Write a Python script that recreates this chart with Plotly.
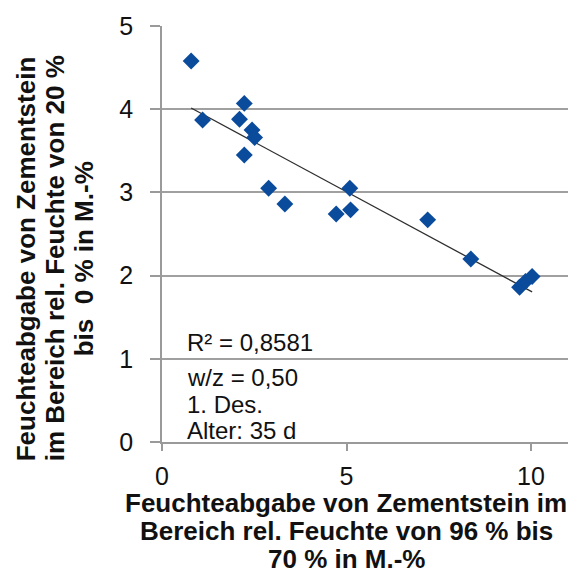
import numpy as np
import plotly.graph_objects as go

# Data
x_vals = [0.79, 1.10, 2.23, 2.10, 2.44, 2.51, 2.23, 2.89, 3.33, 4.72, 5.09, 5.11, 7.20, 8.37, 9.69, 9.85, 10.03]
y_vals = [4.58, 3.87, 4.07, 3.88, 3.75, 3.66, 3.45, 3.05, 2.86, 2.74, 3.05, 2.79, 2.67, 2.20, 1.86, 1.93, 1.99]
x_ticks = [0, 5, 10]
y_ticks = [0, 1, 2, 3, 4, 5]
info_lines = ["R² = 0,8581", "w/z = 0,50", "1. Des.", "Alter: 35 d"]
x_title_lines = ["Feuchteabgabe von Zementstein im", "Bereich rel. Feuchte von 96 % bis", "70 % in M.-%"]
y_title_lines = ["Feuchteabgabe von Zementstein", "im Bereich rel. Feuchte von 20 %", "bis  0 % in M.-%"]

FONT = "Arial, Liberation Sans, sans-serif"

# linear trendline fitted to the data
slope, intercept = np.polyfit(x_vals, y_vals, 1)
tx = np.array([min(x_vals), max(x_vals)])
ty = slope * tx + intercept

fig = go.Figure()
fig.add_trace(go.Scatter(x=tx, y=ty, mode="lines",
                         line=dict(color="#2e2e2e", width=1.3), showlegend=False, hoverinfo="skip"))
fig.add_trace(go.Scatter(x=x_vals, y=y_vals, mode="markers",
                         marker=dict(symbol="diamond", size=13, color="#0a4b9c", line=dict(width=0)),
                         showlegend=False))

W, H = 581, 576
L, R, T, B = 162, 13, 22, 134
pw, ph = W - L - R, H - T - B


def px2paper_x(px):
    return (px - L) / pw


def px2paper_y(py):
    return (H - B - py) / ph


annotations = []
# info text inside plot
info_centers = [341.7, 376.7, 403.7, 430.8]
for txt, cy in zip(info_lines, info_centers):
    annotations.append(dict(text=txt, xref="paper", yref="paper", x=px2paper_x(185), y=px2paper_y(cy),
                            xanchor="left", yanchor="middle", showarrow=False,
                            font=dict(family=FONT, size=24, color="#111111")))
# x-axis title lines
for txt, cy in zip(x_title_lines, [503.3, 531.7, 560.0]):
    annotations.append(dict(text="<b>" + txt + "</b>", xref="paper", yref="paper", x=px2paper_x(346),
                            y=px2paper_y(cy), xanchor="center", yanchor="middle", showarrow=False,
                            font=dict(family=FONT, size=26, color="#111111")))
# y-axis title lines
for txt, cx in zip(y_title_lines, [25.5, 54.5, 83.5]):
    annotations.append(dict(text="<b>" + txt + "</b>", xref="paper", yref="paper", x=px2paper_x(cx),
                            y=px2paper_y(257), xanchor="center", yanchor="middle", showarrow=False,
                            textangle=-90, font=dict(family=FONT, size=26, color="#111111")))

fig.update_layout(
    width=W, height=H,
    margin=dict(l=L, r=R, t=T, b=B, pad=0),
    paper_bgcolor="white", plot_bgcolor="white",
    font=dict(family=FONT, color="#111111"),
    annotations=annotations,
    xaxis=dict(range=[0, pw / 36.9], tickvals=x_ticks, ticktext=[str(v) for v in x_ticks],
               showgrid=False, zeroline=False, showline=True, linecolor="#9a9a9a", linewidth=1.5,
               ticks="outside", ticklen=7, tickwidth=1.5, tickcolor="#9a9a9a",
               tickfont=dict(family=FONT, size=25, color="#111111"), ticklabelstandoff=4),
    yaxis=dict(range=[0, 5], tickvals=y_ticks, ticktext=[str(v) for v in y_ticks],
               showgrid=True, gridcolor="#a0a0a0", gridwidth=1.5, zeroline=False,
               showline=True, linecolor="#9a9a9a", linewidth=1.5,
               ticks="outside", ticklen=10, tickwidth=1.5, tickcolor="#9a9a9a",
               tickfont=dict(family=FONT, size=25, color="#111111"), ticklabelstandoff=12),
)

fig.write_html("out.html", config={"displayModeBar": False},
               post_script="document.body.style.margin='0';document.body.style.padding='0';")
